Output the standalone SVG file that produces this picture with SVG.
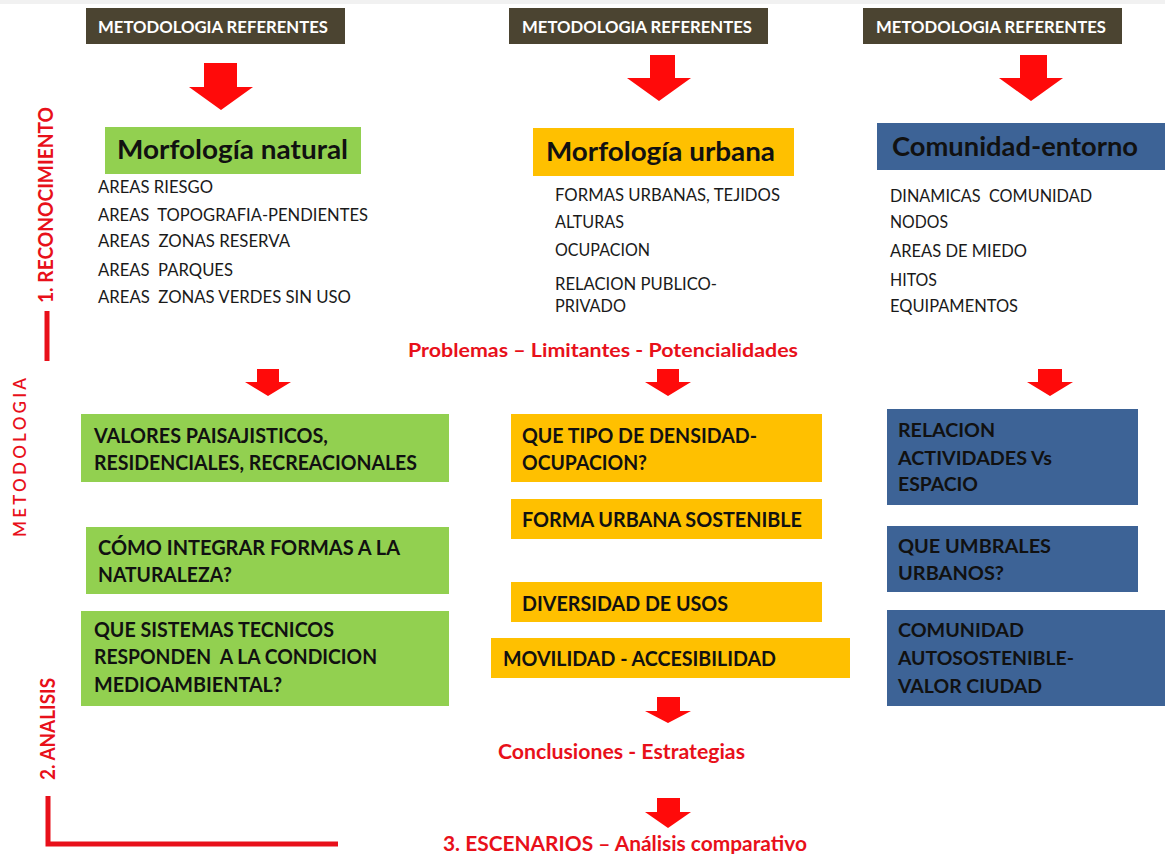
<svg xmlns="http://www.w3.org/2000/svg" width="1165" height="854" viewBox="0 0 1165 854">
<style>
text{font-family:Lato,"Open Sans","Liberation Sans",sans-serif}
.hdr{fill:#4B4431}
.hdrt{fill:#ffffff;font-weight:700;font-size:17.5px}
.green{fill:#92D050}
.yellow{fill:#FFC000}
.blue{fill:#3D6396}
.title{fill:#111;font-weight:700;font-size:26px}
.list{fill:#1a1a1a;font-size:17.5px}
.bt{fill:#111;font-weight:700;font-size:20.5px}
.btb{fill:#111;font-weight:700;font-size:19px}
.red{fill:#E8101A;font-weight:700}
.arrow{fill:#FF0A0A}
.bar{stroke:#E8101A;stroke-width:5;fill:none}
</style>
<rect x="0" y="0" width="1165" height="4" fill="#f1f1f1"/>

<g id="side-labels">
<text class="red" font-size="20" transform="translate(53,303) rotate(-90)" textLength="196" lengthAdjust="spacingAndGlyphs">1. RECONOCIMIENTO</text>
<line class="bar" x1="47" y1="311" x2="47" y2="361"/>
<text fill="#E8101A" font-weight="600" font-size="17" transform="translate(26,537) rotate(-90)" textLength="159" lengthAdjust="spacing">METODOLOGIA</text>
<text class="red" font-size="20" transform="translate(55,780) rotate(-90)" textLength="102" lengthAdjust="spacingAndGlyphs">2. ANALISIS</text>
<polyline class="bar" points="48,796 48,844 338,844"/>
</g>

<g id="header-1">
<rect class="hdr" x="86" y="8" width="259" height="36"/>
<text class="hdrt" x="98" y="33" textLength="230" lengthAdjust="spacingAndGlyphs">METODOLOGIA REFERENTES</text>
</g>
<g id="header-2">
<rect class="hdr" x="509" y="8" width="259" height="36"/>
<text class="hdrt" x="522" y="33" textLength="230" lengthAdjust="spacingAndGlyphs">METODOLOGIA REFERENTES</text>
</g>
<g id="header-3">
<rect class="hdr" x="863" y="8" width="259" height="36"/>
<text class="hdrt" x="876" y="33" textLength="230" lengthAdjust="spacingAndGlyphs">METODOLOGIA REFERENTES</text>
</g>

<g id="morfologia-natural">
<rect class="green" x="105" y="127" width="256" height="47"/>
<text class="title" x="117" y="159" textLength="231" lengthAdjust="spacingAndGlyphs">Morfología natural</text>
<text class="list" x="98" y="193" textLength="115" lengthAdjust="spacingAndGlyphs">AREAS RIESGO</text>
<text class="list" x="98" y="221" textLength="270" lengthAdjust="spacingAndGlyphs" xml:space="preserve">AREAS  TOPOGRAFIA-PENDIENTES</text>
<text class="list" x="98" y="247" textLength="192" lengthAdjust="spacingAndGlyphs" xml:space="preserve">AREAS  ZONAS RESERVA</text>
<text class="list" x="98" y="276" textLength="135" lengthAdjust="spacingAndGlyphs" xml:space="preserve">AREAS  PARQUES</text>
<text class="list" x="98" y="303" textLength="253" lengthAdjust="spacingAndGlyphs" xml:space="preserve">AREAS  ZONAS VERDES SIN USO</text>
</g>

<g id="morfologia-urbana">
<rect class="yellow" x="533" y="128" width="261" height="48"/>
<text class="title" x="546" y="161" textLength="229" lengthAdjust="spacingAndGlyphs">Morfología urbana</text>
<text class="list" x="555" y="201" textLength="225" lengthAdjust="spacingAndGlyphs">FORMAS URBANAS, TEJIDOS</text>
<text class="list" x="555" y="228" textLength="69" lengthAdjust="spacingAndGlyphs">ALTURAS</text>
<text class="list" x="555" y="256" textLength="95" lengthAdjust="spacingAndGlyphs">OCUPACION</text>
<text class="list" x="555" y="290" textLength="162" lengthAdjust="spacingAndGlyphs">RELACION PUBLICO-</text>
<text class="list" x="555" y="312" textLength="71" lengthAdjust="spacingAndGlyphs">PRIVADO</text>
</g>

<g id="comunidad-entorno">
<rect class="blue" x="877" y="123" width="288" height="47"/>
<text class="title" x="892" y="156" textLength="246" lengthAdjust="spacingAndGlyphs">Comunidad-entorno</text>
<text class="list" x="890" y="202" textLength="202" lengthAdjust="spacingAndGlyphs" xml:space="preserve">DINAMICAS  COMUNIDAD</text>
<text class="list" x="890" y="228" textLength="58" lengthAdjust="spacingAndGlyphs">NODOS</text>
<text class="list" x="890" y="257" textLength="137" lengthAdjust="spacingAndGlyphs">AREAS DE MIEDO</text>
<text class="list" x="890" y="286" textLength="47" lengthAdjust="spacingAndGlyphs">HITOS</text>
<text class="list" x="890" y="312" textLength="128" lengthAdjust="spacingAndGlyphs">EQUIPAMENTOS</text>
</g>

<g id="problemas">
<text class="red" font-size="18.5" x="408" y="357" textLength="390" lengthAdjust="spacingAndGlyphs">Problemas – Limitantes - Potencialidades</text>
</g>

<g id="valores">
<rect class="green" x="81" y="414" width="368" height="68"/>
<text class="bt" x="94" y="443" textLength="234" lengthAdjust="spacingAndGlyphs">VALORES PAISAJISTICOS,</text>
<text class="bt" x="94" y="470" textLength="323" lengthAdjust="spacingAndGlyphs">RESIDENCIALES, RECREACIONALES</text>
</g>
<g id="como-integrar">
<rect class="green" x="86" y="527" width="363" height="67"/>
<text class="bt" x="98" y="555" textLength="302" lengthAdjust="spacingAndGlyphs">CÓMO INTEGRAR FORMAS A LA</text>
<text class="bt" x="98" y="582" textLength="134" lengthAdjust="spacingAndGlyphs">NATURALEZA?</text>
</g>
<g id="sistemas-tecnicos">
<rect class="green" x="81" y="611" width="368" height="95"/>
<text class="bt" x="94" y="637" textLength="240" lengthAdjust="spacingAndGlyphs">QUE SISTEMAS TECNICOS</text>
<text class="bt" x="94" y="664" textLength="283" lengthAdjust="spacingAndGlyphs" xml:space="preserve">RESPONDEN  A LA CONDICION</text>
<text class="bt" x="94" y="692" textLength="188" lengthAdjust="spacingAndGlyphs">MEDIOAMBIENTAL?</text>
</g>

<g id="densidad">
<rect class="yellow" x="511" y="414" width="311" height="68"/>
<text class="bt" x="522" y="443" textLength="235" lengthAdjust="spacingAndGlyphs">QUE TIPO DE DENSIDAD-</text>
<text class="bt" x="522" y="470" textLength="125" lengthAdjust="spacingAndGlyphs">OCUPACION?</text>
</g>
<g id="forma-urbana">
<rect class="yellow" x="511" y="499" width="311" height="40"/>
<text class="bt" x="522" y="527" textLength="280" lengthAdjust="spacingAndGlyphs">FORMA URBANA SOSTENIBLE</text>
</g>
<g id="diversidad">
<rect class="yellow" x="511" y="582" width="311" height="40"/>
<text class="bt" x="522" y="611" textLength="206" lengthAdjust="spacingAndGlyphs">DIVERSIDAD DE USOS</text>
</g>
<g id="movilidad">
<rect class="yellow" x="491" y="638" width="359" height="40"/>
<text class="bt" x="503" y="666" textLength="273" lengthAdjust="spacingAndGlyphs">MOVILIDAD - ACCESIBILIDAD</text>
</g>

<g id="relacion-actividades">
<rect class="blue" x="887" y="409" width="251" height="96"/>
<text class="btb" x="898" y="437" textLength="97" lengthAdjust="spacingAndGlyphs">RELACION</text>
<text class="btb" x="898" y="465" textLength="154" lengthAdjust="spacingAndGlyphs">ACTIVIDADES Vs</text>
<text class="btb" x="898" y="491" textLength="80" lengthAdjust="spacingAndGlyphs">ESPACIO</text>
</g>
<g id="umbrales">
<rect class="blue" x="887" y="526" width="251" height="66"/>
<text class="btb" x="898" y="553" textLength="153" lengthAdjust="spacingAndGlyphs">QUE UMBRALES</text>
<text class="btb" x="898" y="580" textLength="106" lengthAdjust="spacingAndGlyphs">URBANOS?</text>
</g>
<g id="comunidad-autosostenible">
<rect class="blue" x="887" y="610" width="278" height="96"/>
<text class="btb" x="898" y="637" textLength="126" lengthAdjust="spacingAndGlyphs">COMUNIDAD</text>
<text class="btb" x="898" y="665" textLength="176" lengthAdjust="spacingAndGlyphs">AUTOSOSTENIBLE-</text>
<text class="btb" x="898" y="693" textLength="144" lengthAdjust="spacingAndGlyphs">VALOR CIUDAD</text>
</g>

<g id="conclusiones">
<text class="red" font-size="20" x="498" y="759" textLength="247" lengthAdjust="spacingAndGlyphs">Conclusiones - Estrategias</text>
</g>
<g id="escenarios">
<text class="red" font-size="21.5" x="443" y="851" textLength="364" lengthAdjust="spacingAndGlyphs">3. ESCENARIOS – Análisis comparativo</text>
</g>

<g id="connectors">
<path class="arrow" d="M204,63 H237 V87 H253 L221,110 L189,87 H204 Z"/>
<path class="arrow" d="M650,55 H675 V78 H691 L659,101 L627,78 H650 Z"/>
<path class="arrow" d="M1020,55 H1047 V78 H1063 L1031,101 L999,78 H1020 Z"/>
<path class="arrow" d="M257,369 H279 V382 H291 L268,396 L245,382 H257 Z"/>
<path class="arrow" d="M657,369 H679 V382 H691 L668,396 L645,382 H657 Z"/>
<path class="arrow" d="M1038,369 H1062 V382 H1073 L1050,396 L1027,382 H1038 Z"/>
<path class="arrow" d="M657,697 H680 V711 H691 L668,723 L645,711 H657 Z"/>
<path class="arrow" d="M657,798 H680 V812 H691 L668,828 L645,812 H657 Z"/>
</g>
</svg>
